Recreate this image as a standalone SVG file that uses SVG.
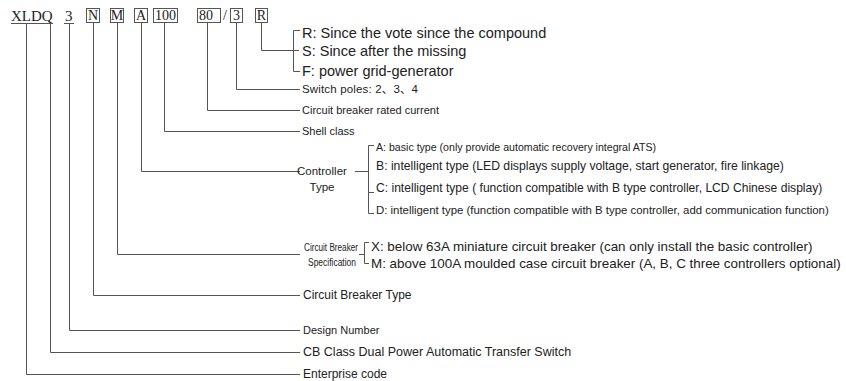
<svg xmlns="http://www.w3.org/2000/svg" width="846" height="381" viewBox="0 0 846 381">
<style>
.code{font-family:"Liberation Serif","Times New Roman",serif;font-size:15px;fill:#222}
.bl{font-family:"Liberation Serif","Times New Roman",serif;font-size:14px;fill:#222;text-anchor:middle}
.box{fill:none;stroke:#555;stroke-width:1}
.ln{fill:none;stroke:#555;stroke-width:1}
.lbl{font-family:"Liberation Sans",Arial,"Noto Sans CJK SC",sans-serif;font-size:12px;fill:#222}
.rsf{font-family:"Liberation Sans",Arial,sans-serif;font-size:14.5px;fill:#222}
</style>
<rect width="846" height="381" fill="#fff"/>
<g id="code">
  <g id="c-xldq"><text class="code" x="11" y="21">XLDQ</text><line class="ln" x1="11" y1="23.5" x2="53" y2="23.5"/></g>
  <g id="c-3"><text class="code" x="65" y="21">3</text><line class="ln" x1="64" y1="23.5" x2="74" y2="23.5"/></g>
  <g id="c-n"><rect class="box" x="86.5" y="8.5" width="13" height="14"/><text class="bl" x="93" y="20">N</text></g>
  <g id="c-m"><rect class="box" x="110.5" y="8.5" width="13" height="14"/><text class="bl" x="117" y="20">M</text></g>
  <g id="c-a"><rect class="box" x="134.5" y="8.5" width="13" height="14"/><text class="bl" x="141" y="20">A</text></g>
  <g id="c-100"><rect class="box" x="153.5" y="8.5" width="24" height="14"/><text class="bl" x="165.5" y="20">100</text></g>
  <g id="c-80"><rect class="box" x="197.5" y="8.5" width="23" height="14"/><text class="bl" x="206" y="20">80</text></g>
  <g id="c-slash"><text class="bl" x="225" y="20">/</text></g>
  <g id="c-3b"><rect class="box" x="230.5" y="8.5" width="12" height="14"/><text class="bl" x="236.5" y="20">3</text></g>
  <g id="c-r"><rect class="box" x="255.5" y="8.5" width="12" height="14"/><text class="bl" x="261.5" y="20">R</text></g>
</g>
<g id="connectors" class="ln">
  <path d="M26.5 24V374.5H300"/>
  <path d="M50.5 24V352.5H300"/>
  <path d="M69.5 24V330.5H300"/>
  <path d="M93.5 23V295.5H300"/>
  <path d="M117.5 23V254.5H300"/>
  <path d="M141.5 23V171.5H300"/>
  <path d="M164.5 23V131.5H300"/>
  <path d="M207.5 23V110.5H300"/>
  <path d="M236.5 23V89.5H300"/>
  <path d="M261.5 23V50.5H299"/>
  <path d="M300 30.5H293.5V71.5H300"/>
  <path d="M355 171.5H368.5"/>
  <path d="M374 145.5H368.5V213.5H374"/>
  <path d="M368.5 192.5H374"/>
  <path d="M359 254.5H364.5"/>
  <path d="M369 242.5H364.5V263.5H369"/>
</g>
<g id="n-rsf">
  <text class="rsf" x="302" y="38">R: Since the vote since the compound</text>
  <text class="rsf" x="302" y="56">S: Since after the missing</text>
  <text class="rsf" x="302" y="76">F: power grid-generator</text>
</g>
<g id="n-poles"><text class="lbl" x="302" y="93" style="font-size:11.5px" textLength="116">Switch poles: 2、3、4</text></g>
<g id="n-current"><text class="lbl" x="302" y="114" style="font-size:11px">Circuit breaker rated current</text></g>
<g id="n-shell"><text class="lbl" x="302" y="135" style="font-size:11px">Shell class</text></g>
<g id="n-controller">
  <text class="lbl" x="297" y="175" style="font-size:11.5px">Controller</text>
  <text class="lbl" x="322" y="191" style="font-size:11.5px" text-anchor="middle">Type</text>
  <text class="lbl" x="376" y="151" style="font-size:10.6px">A: basic type (only provide automatic recovery integral ATS)</text>
  <text class="lbl" x="376" y="170" style="font-size:12.2px">B: intelligent type (LED displays supply voltage, start generator, fire linkage)</text>
  <text class="lbl" x="376" y="192" style="font-size:12.1px">C: intelligent type ( function compatible with B type controller, LCD Chinese display)</text>
  <text class="lbl" x="376" y="214" style="font-size:11.4px">D: intelligent type (function compatible with B type controller, add communication function)</text>
</g>
<g id="n-spec">
  <text class="lbl" x="304" y="251" style="font-size:10px" textLength="54" lengthAdjust="spacingAndGlyphs">Circuit Breaker</text>
  <text class="lbl" x="308" y="266" style="font-size:10px" textLength="48" lengthAdjust="spacingAndGlyphs">Specification</text>
  <text class="lbl" x="371" y="251" style="font-size:13.4px">X: below 63A miniature circuit breaker (can only install the basic controller)</text>
  <text class="lbl" x="371" y="268" style="font-size:13.4px">M: above 100A moulded case circuit breaker (A, B, C three controllers optional)</text>
</g>
<g id="n-cbtype"><text class="lbl" x="303" y="299">Circuit Breaker Type</text></g>
<g id="n-design"><text class="lbl" x="303" y="334" style="font-size:11px">Design Number</text></g>
<g id="n-class"><text class="lbl" x="303" y="356" style="font-size:12.5px">CB Class Dual Power Automatic Transfer Switch</text></g>
<g id="n-enterprise"><text class="lbl" x="303" y="378">Enterprise code</text></g>
</svg>
